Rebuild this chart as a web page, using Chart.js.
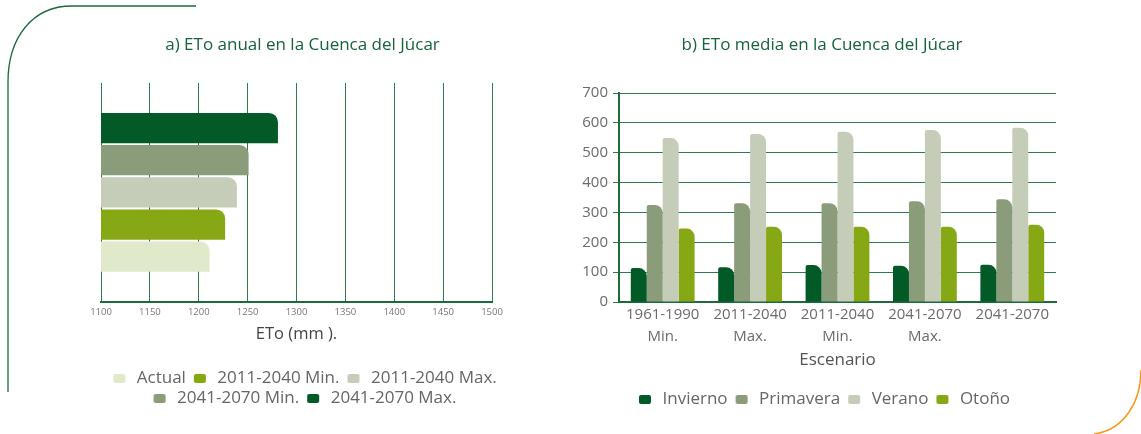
<!DOCTYPE html>
<html lang="es">
<head>
    <meta charset="UTF-8">
    <title>ETo en la Cuenca del Júcar</title>
    <script src="https://cdn.jsdelivr.net/npm/chart.js"></script>
    <style>
        html, body { margin: 0; padding: 0; background: #fff; }
        body { width: 1141px; height: 434px; position: relative; overflow: hidden; }
        .caja { position: absolute; top: 0; }
        #caja-anual { left: 90px; }
        #caja-media { left: 565px; }
        #adorno { position: absolute; left: 0; top: 0; pointer-events: none; }
    </style>
</head>
<body>

    <svg id="adorno" width="1141" height="434">
        <path d="M 8 392 L 8 82 C 8 38, 32 6, 72 6 L 196 6" fill="none" stroke="#1d6a3a" stroke-width="1.3"/>
        <path d="M 1141 370 C 1141 402, 1124 430, 1094 434" fill="none" stroke="#f39a1a" stroke-width="1.5"/>
    </svg>

    <div class="caja" id="caja-anual"><canvas id="grafico-anual" width="425" height="434"></canvas></div>
    <div class="caja" id="caja-media"><canvas id="grafico-media" width="514" height="434"></canvas></div>

    <script>
        // a) ETo anual (mm)
        const seriesAnual = ['Actual', '2011-2040 Min.', '2011-2040 Max.', '2041-2070 Min.', '2041-2070 Max.'];
        const valoresAnual = [1211, 1227, 1239, 1251, 1281];
        const coloresAnual = ['#e1e9cb', '#86a814', '#c5cdb9', '#8a9c7a', '#025a27'];
        const ticksAnual = [1100, 1150, 1200, 1250, 1300, 1350, 1400, 1450, 1500];

        // b) ETo media por estación
        const escenarios = [['1961-1990', 'Min.'], ['2011-2040', 'Max.'], ['2011-2040', 'Min.'], ['2041-2070', 'Max.'], ['2041-2070']];
        const estaciones = ['Invierno', 'Primavera', 'Verano', 'Otoño'];
        const invierno = [114, 117, 124, 122, 125];
        const primavera = [325, 331, 331, 338, 344];
        const verano = [549, 563, 570, 576, 584];
        const otono = [246, 252, 252, 252, 259];
        const coloresEstaciones = ['#025a27', '#8a9c7a', '#c5cdb9', '#86a814'];

        const verde = '#17643a';
        const gris = '#6b6b6b';
        const fuente = "'Open Sans', sans-serif";

        Chart.defaults.font.family = fuente;
        Chart.defaults.color = gris;
        Chart.defaults.animation = false;

        // muestra de la leyenda: cuadrito redondeado con hueco a la izquierda
        function muestra(color) {
            const c = document.createElement('canvas');
            c.width = 20;
            c.height = 9;
            const g = c.getContext('2d');
            g.fillStyle = color;
            g.beginPath();
            g.roundRect(5, 0, 12, 9, 2);
            g.fill();
            return c;
        }

        function etiquetasLeyenda(chart) {
            const items = Chart.defaults.plugins.legend.labels.generateLabels(chart);
            items.forEach(function(item) {
                item.pointStyle = muestra(item.fillStyle);
            });
            return items;
        }

        const leyenda = {
            usePointStyle: true,
            pointStyleWidth: 20,
            padding: 3,
            color: '#666',
            font: { size: 17 },
            generateLabels: etiquetasLeyenda
        };

        // eje vacío que solo reserva margen
        function ejeVacio(posicion, ancho) {
            return {
                type: 'category',
                labels: [''],
                position: posicion,
                ticks: { display: false },
                grid: { display: false, drawTicks: false },
                border: { display: false },
                afterFit: function(escala) { escala.width = ancho; }
            };
        }

        // orden de arriba a abajo: 2041-2070 Max. primero, Actual al final
        const datasetsAnual = seriesAnual.map(function(nombre, i) {
            return {
                label: nombre,
                data: [valoresAnual[i]],
                backgroundColor: coloresAnual[i],
                borderWidth: 0,
                borderRadius: { topLeft: 0, bottomLeft: 0, topRight: 9, bottomRight: 0 },
                borderSkipped: 'start',
                categoryPercentage: 0.735,
                barPercentage: 0.94
            };
        }).reverse();

        new Chart(document.getElementById('grafico-anual'), {
            type: 'bar',
            data: { labels: [''], datasets: datasetsAnual },
            options: {
                indexAxis: 'y',
                responsive: false,
                layout: { padding: { left: 0, right: 0, top: 35, bottom: 17 } },
                plugins: {
                    title: {
                        display: true,
                        text: 'a) ETo anual en la Cuenca del Júcar',
                        color: verde,
                        font: { size: 17, weight: 'normal' },
                        padding: { top: 0, bottom: 27.6 }
                    },
                    legend: {
                        position: 'bottom',
                        reverse: true,
                        labels: leyenda
                    },
                    tooltip: { enabled: false }
                },
                scales: {
                    x: {
                        min: 1100,
                        max: 1500,
                        afterBuildTicks: function(escala) {
                            escala.ticks = ticksAnual.map(v => ({ value: v }));
                        },
                        afterFit: function(escala) {
                            escala.paddingLeft = 0;
                            escala.paddingRight = 0;
                        },
                        grid: { color: '#2f7a4c', lineWidth: 1, drawTicks: false },
                        border: { color: '#1d6a3a', width: 2 },
                        ticks: {
                            color: '#777',
                            font: { size: 9.5 },
                            padding: 5,
                            maxRotation: 0,
                            callback: v => String(v)
                        },
                        title: {
                            display: true,
                            text: 'ETo (mm ).',
                            color: '#444',
                            font: { size: 16.5 },
                            padding: { top: 1, bottom: 23 }
                        }
                    },
                    y: {
                        position: 'left',
                        ticks: { display: false },
                        grid: { display: false, drawTicks: false },
                        border: { display: false },
                        afterFit: function(escala) { escala.width = 11; }
                    },
                    yDerecha: ejeVacio('right', 23)
                }
            }
        });

        const seriesMedia = [invierno, primavera, verano, otono];

        new Chart(document.getElementById('grafico-media'), {
            type: 'bar',
            data: {
                labels: escenarios,
                datasets: estaciones.map(function(nombre, i) {
                    return {
                        label: nombre,
                        data: seriesMedia[i],
                        backgroundColor: coloresEstaciones[i],
                        borderWidth: 0,
                        borderRadius: { topLeft: 2, topRight: 8, bottomLeft: 0, bottomRight: 0 },
                        borderSkipped: 'start',
                        categoryPercentage: 0.73,
                        barPercentage: 1.0
                    };
                })
            },
            options: {
                responsive: false,
                layout: { padding: { left: 0, right: 0, top: 35, bottom: 16 } },
                plugins: {
                    title: {
                        display: true,
                        text: 'b) ETo media en la Cuenca del Júcar',
                        color: verde,
                        font: { size: 17, weight: 'normal' },
                        padding: { top: 0, bottom: 37.6 }
                    },
                    legend: {
                        position: 'bottom',
                        labels: leyenda
                    },
                    tooltip: { enabled: false }
                },
                scales: {
                    x: {
                        grid: { display: false, drawTicks: false },
                        border: { color: '#1d6a3a', width: 2 },
                        ticks: { color: gris, font: { size: 15, lineHeight: 1.45 }, padding: 2, maxRotation: 0 },
                        title: {
                            display: true,
                            text: 'Escenario',
                            color: '#555',
                            font: { size: 17 },
                            padding: { top: 0, bottom: 18 }
                        }
                    },
                    y: {
                        min: 0,
                        max: 700,
                        ticks: { stepSize: 100, color: gris, font: { size: 15 }, padding: 5 },
                        grid: { color: '#2f7a4c', lineWidth: 1, tickLength: 6, tickColor: '#2f7a4c' },
                        border: { color: '#1d6a3a', width: 2 },
                        afterFit: function(escala) { escala.width = 54; }
                    },
                    yDerecha: ejeVacio('right', 23)
                }
            }
        });
    </script>

</body>
</html>
